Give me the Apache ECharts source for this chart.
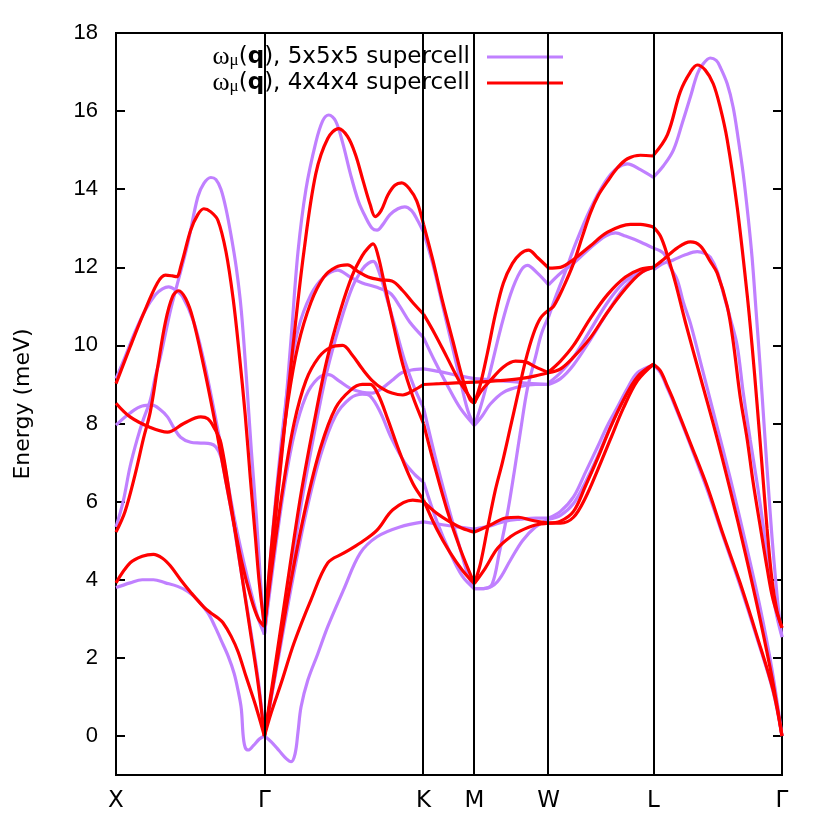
<!DOCTYPE html>
<html>
<head>
<meta charset="utf-8">
<script src="https://cdn.jsdelivr.net/npm/echarts@6/dist/echarts.min.js"></script>
<style>html,body{margin:0;padding:0;background:#fff}#c{width:830px;height:830px}</style>
</head>
<body>
<div id="c"></div>
<script>
// High-symmetry points and path coordinates
const kLabels = ['X', 'Γ', 'K', 'M', 'W', 'L', 'Γ'];
const kPos = [0, 1, 2.072, 2.414, 2.914, 3.621, 4.487];
const yTicks = [0, 2, 4, 6, 8, 10, 12, 14, 16, 18];
const seriesNames = ['5x5x5', '4x4x4'];

// Bands per path segment: each point is [fraction along segment, energy meV]
// ---- 5x5x5 supercell ----
const s5_XG = [
  [[0,5.35],[.048,6.0],[.095,6.9],[.143,7.6],[.184,8.1],[.231,8.6],[.265,9.2],[.299,9.7],[.333,10.3],[.367,10.9],[.415,11.6],[.483,12.6],[.551,13.8],[.592,14.15],[.639,14.3],[.673,14.25],[.707,14.0],[.741,13.5],[.776,12.8],[.810,12.0],[.844,10.9],[.878,9.2],[.912,7.3],[.946,5.6],[.973,4.0],[1,2.6]],
  [[0,9.15],[.061,9.7],[.129,10.35],[.197,10.9],[.265,11.3],[.313,11.45],[.354,11.5],[.401,11.42],[.449,11.25],[.524,10.6],[.592,9.6],[.660,8.35],[.728,7.0],[.796,5.6],[.864,4.4],[.912,3.65],[.959,3.0],[1,2.6]],
  [[0,7.96],[.095,8.27],[.177,8.45],[.245,8.47],[.299,8.35],[.347,8.17],[.388,7.9],[.435,7.65],[.503,7.52],[.571,7.5],[.639,7.48],[.673,7.4],[.707,7.15],[.741,6.5],[.789,5.5],[.844,4.2],[.912,2.6],[.959,1.4],[1,0]],
  [[0,3.8],[.095,3.92],[.177,4.0],[.252,4.0],[.333,3.92],[.415,3.83],[.483,3.7],[.551,3.48],[.619,3.15],[.667,2.8],[.707,2.46],[.755,2.05],[.796,1.6],[.823,1.15],[.844,0.7],[.857,0.0],[.871,-0.3],[.891,-0.36],[.925,-0.25],[.966,-0.08],[1,0]]
];
const s5_GK = [
  [[0,2.6],[.031,3.8],[.075,5.8],[.124,8.0],[.168,10.2],[.211,12.4],[.261,14.0],[.323,15.2],[.366,15.75],[.404,15.9],[.447,15.75],[.491,15.2],[.540,14.4],[.590,13.7],[.634,13.3],[.677,13.0],[.708,12.95],[.745,13.1],[.789,13.35],[.839,13.5],[.882,13.55],[.925,13.45],[.963,13.2],[1,12.9]],
  [[0,2.6],[.043,4.8],[.093,7.0],[.149,9.0],[.211,10.4],[.292,11.3],[.373,11.75],[.460,11.93],[.540,11.75],[.615,11.6],[.696,11.5],[.789,11.34],[.851,11.0],[.913,10.6],[1,10.2]],
  [[0,0],[.075,1.8],[.155,3.9],[.230,5.9],[.311,7.7],[.391,9.3],[.478,10.6],[.553,11.5],[.615,11.95],[.652,12.1],[.683,12.15],[.727,11.8],[.770,11.2],[.820,10.5],[.882,9.6],[.944,8.9],[1,8.4]],
  [[0,2.6],[.056,4.4],[.118,6.2],[.186,7.7],[.261,8.7],[.335,9.15],[.404,9.25],[.466,9.1],[.540,8.9],[.615,8.8],[.677,8.78],[.739,8.9],[.801,9.1],[.863,9.3],[.925,9.37],[1,9.4]],
  [[0,0],[.075,1.7],[.168,3.8],[.261,5.7],[.354,7.2],[.447,8.2],[.540,8.65],[.615,8.75],[.665,8.7],[.727,8.3],[.801,7.6],[.882,7.0],[.944,6.7],[1,6.5]],
  [[0,0],[.043,-0.15],[.093,-0.38],[.137,-0.58],[.168,-0.66],[.193,-0.45],[.211,0.1],[.230,0.74],[.273,1.43],[.335,2.1],[.398,2.8],[.497,3.74],[.602,4.68],[.708,5.1],[.851,5.35],[1,5.48]]
];
const s5_KM = [
  [[0,12.9],[.18,12.1],[.38,11.0],[.58,9.9],[.76,8.9],[.88,8.3],[1,7.95]],
  [[0,10.2],[.22,9.6],[.46,9.0],[.72,8.4],[1,7.95]],
  [[0,8.4],[.22,7.2],[.46,6.0],[.72,4.8],[.88,4.1],[1,3.77]],
  [[0,9.4],[.32,9.33],[.64,9.24],[1,9.15]],
  [[0,6.5],[.26,5.5],[.52,4.7],[.76,4.1],[1,3.77]],
  [[0,5.48],[.32,5.42],[.62,5.36],[1,5.3]]
];
const s5_MW = [
  [[0,7.95],[.081,8.4],[.216,9.35],[.351,10.4],[.486,11.3],[.622,11.9],[.716,12.05],[.851,11.85],[1,11.55]],
  [[0,7.95],[.108,8.2],[.216,8.5],[.392,8.8],[.622,8.95],[.824,9.0],[1,9.0]],
  [[0,9.15],[.351,9.1],[.622,9.05],[1,9.0]],
  [[0,3.77],[.149,3.78],[.243,3.9],[.338,4.7],[.446,5.7],[.541,6.8],[.622,7.8],[.716,8.9],[.824,9.7],[.905,10.3],[1,10.73]],
  [[0,3.77],[.149,3.78],[.311,3.95],[.486,4.5],[.649,5.0],[.824,5.35],[1,5.55]],
  [[0,5.3],[.216,5.38],[.419,5.5],[.622,5.55],[.824,5.58],[1,5.58]]
];
const s5_WL = [
  [[0,11.55],[.114,11.85],[.238,12.1],[.40,12.5],[.543,12.8],[.638,12.88],[.733,12.8],[.876,12.65],[1,12.49]],
  [[0,10.73],[.076,11.3],[.162,11.9],[.257,12.6],[.40,13.5],[.543,14.2],[.657,14.55],[.752,14.65],[.876,14.5],[1,14.3]],
  [[0,9.04],[.114,9.3],[.238,9.7],[.40,10.4],[.562,11.1],[.714,11.6],[.876,11.9],[1,12.0]],
  [[0,9.0],[.114,9.15],[.238,9.5],[.40,10.15],[.562,10.85],[.714,11.45],[.876,11.85],[1,12.0]],
  [[0,5.55],[.114,5.65],[.238,5.95],[.352,6.5],[.467,7.15],[.562,7.75],[.657,8.3],[.752,8.8],[.848,9.2],[1,9.5]],
  [[0,5.58],[.114,5.75],[.238,6.12],[.352,6.75],[.467,7.4],[.562,7.95],[.657,8.42],[.752,8.9],[.848,9.3],[1,9.5]]
];
const s5_LG = [
  [[0,14.31],[.078,14.6],[.155,15.0],[.225,15.7],[.287,16.36],[.341,16.95],[.380,17.18],[.442,17.36],[.488,17.3],[.519,17.13],[.574,16.7],[.620,16.1],[.659,15.3],[.698,14.4],[.736,13.3],[.767,12.26],[.798,10.9],[.829,9.5],[.860,8.0],[.891,6.5],[.922,5.1],[.953,3.9],[.977,3.1],[1,2.53]],
  [[0,11.93],[.078,12.1],[.155,12.19],[.248,12.32],[.341,12.4],[.403,12.35],[.442,12.26],[.496,11.9],[.543,11.34],[.597,10.7],[.651,10.0],[.698,8.8],[.752,7.6],[.806,6.48],[.853,5.4],[.891,4.4],[.930,3.6],[.961,3.05],[1,2.53]],
  [[0,12.49],[.078,12.36],[.132,12.0],[.186,11.67],[.233,11.1],[.287,10.57],[.364,9.6],[.481,8.1],[.597,6.6],[.713,5.0],[.829,3.3],[.922,1.7],[1,0]],
  [[0,9.5],[.054,9.3],[.109,8.9],[.155,8.55],[.287,7.45],[.419,6.3],[.543,5.1],[.674,3.85],[.806,2.5],[.930,1.15],[1,0]]
];

// ---- 4x4x4 supercell ----
const r4_XG = [
  [[0,9.02],[.095,9.96],[.184,10.8],[.279,11.6],[.333,11.8],[.381,11.78],[.408,11.76],[.442,12.1],[.503,12.95],[.551,13.35],[.592,13.5],[.639,13.42],[.687,13.2],[.741,12.4],[.789,11.2],[.830,9.8],[.871,8.2],[.905,6.6],[.939,5.1],[.966,3.9],[1,2.85]],
  [[0,5.22],[.061,5.75],[.129,6.7],[.184,7.6],[.231,8.3],[.279,9.4],[.333,10.6],[.381,11.25],[.422,11.4],[.469,11.2],[.517,10.7],[.592,9.45],[.660,8.17],[.707,7.2],[.776,5.8],[.844,4.5],[.912,3.5],[.959,3.0],[1,2.8]],
  [[0,8.52],[.095,8.17],[.231,7.9],[.347,7.78],[.456,8.0],[.571,8.17],[.619,8.12],[.660,7.9],[.707,7.5],[.776,5.9],[.844,4.2],[.912,2.5],[.959,1.3],[1,0]],
  [[0,3.92],[.095,4.43],[.177,4.6],[.252,4.65],[.313,4.55],[.367,4.35],[.435,4.0],[.503,3.68],[.592,3.3],[.639,3.15],[.687,3.02],[.721,2.9],[.776,2.55],[.823,2.15],[.878,1.5],[.939,0.8],[1,0]]
];
const r4_GK = [
  [[0,2.8],[.031,4.0],[.075,5.8],[.124,7.8],[.180,10.0],[.248,12.4],[.323,14.4],[.398,15.3],[.466,15.55],[.522,15.35],[.571,14.9],[.621,14.2],[.665,13.6],[.696,13.3],[.733,13.45],[.776,13.85],[.820,14.1],[.863,14.16],[.913,14.0],[.957,13.7],[1,13.1]],
  [[0,2.8],[.043,4.8],[.093,6.8],[.149,8.6],[.211,10.0],[.292,11.1],[.373,11.75],[.447,12.0],[.522,12.06],[.584,11.9],[.652,11.75],[.727,11.68],[.801,11.65],[.870,11.4],[.932,11.1],[1,10.8]],
  [[0,0],[.075,2.0],[.155,4.2],[.230,6.2],[.311,8.0],[.391,9.6],[.478,10.9],[.553,11.8],[.615,12.3],[.652,12.5],[.683,12.6],[.714,12.3],[.758,11.5],[.807,10.6],[.870,9.5],[.932,8.7],[1,8.0]],
  [[0,2.8],[.056,4.6],[.118,6.4],[.186,8.0],[.261,9.1],[.342,9.7],[.416,9.95],[.491,10.0],[.553,9.75],[.615,9.4],[.677,9.1],[.739,8.9],[.801,8.78],[.870,8.73],[.938,8.85],[1,9.0]],
  [[0,0],[.075,1.8],[.168,4.0],[.261,5.9],[.354,7.4],[.447,8.4],[.540,8.85],[.615,9.0],[.665,9.0],[.714,8.75],[.776,8.1],[.851,7.25],[.932,6.47],[1,6.04]],
  [[0,0],[.043,0.6],[.106,1.36],[.186,2.38],[.292,3.48],[.398,4.43],[.497,4.68],[.602,4.94],[.708,5.27],[.807,5.79],[.932,6.04],[1,6.0]]
];
const r4_KM = [
  [[0,13.1],[.18,12.2],[.38,11.1],[.58,10.1],[.78,9.1],[.92,8.6],[1,8.52]],
  [[0,10.8],[.22,10.3],[.46,9.7],[.72,9.05],[1,8.52]],
  [[0,8.0],[.22,6.9],[.46,5.8],[.72,4.8],[1,3.9]],
  [[0,9.0],[.32,9.02],[.64,9.04],[1,9.06]],
  [[0,6.04],[.26,5.3],[.52,4.7],[.76,4.25],[1,3.9]],
  [[0,6.0],[.26,5.7],[.52,5.48],[.76,5.32],[1,5.22]]
];
const r4_MW = [
  [[0,8.52],[.081,9.0],[.176,9.8],[.284,10.8],[.392,11.6],[.514,12.1],[.622,12.35],[.730,12.44],[.851,12.25],[1,11.98]],
  [[0,8.52],[.081,8.8],[.216,9.1],[.392,9.45],[.554,9.6],[.689,9.58],[.824,9.45],[1,9.3]],
  [[0,9.06],[.351,9.1],[.622,9.15],[.824,9.22],[1,9.3]],
  [[0,3.9],[.081,4.4],[.176,5.3],[.284,6.3],[.378,7.0],[.486,7.9],[.581,8.7],[.689,9.6],[.797,10.3],[.892,10.7],[1,10.9]],
  [[0,3.9],[.149,4.3],[.311,4.8],[.486,5.1],[.622,5.25],[.824,5.4],[1,5.45]],
  [[0,5.22],[.216,5.4],[.419,5.58],[.595,5.6],[.757,5.53],[1,5.45]]
];
const r4_WL = [
  [[0,11.98],[.114,12.0],[.238,12.2],[.40,12.55],[.562,12.9],[.781,13.1],[.876,13.1],[1,13.03]],
  [[0,10.9],[.048,11.0],[.143,11.5],[.238,12.1],[.324,12.8],[.40,13.4],[.476,13.85],[.562,14.2],[.657,14.55],[.752,14.78],[.876,14.87],[1,14.85]],
  [[0,9.32],[.114,9.6],[.238,10.0],[.40,10.7],[.562,11.3],[.733,11.75],[.876,11.95],[1,12.0]],
  [[0,9.3],[.114,9.4],[.238,9.7],[.40,10.2],[.562,10.85],[.733,11.45],[.876,11.85],[1,12.0]],
  [[0,5.45],[.114,5.5],[.238,5.75],[.352,6.4],[.467,7.1],[.590,7.9],[.714,8.6],[.848,9.2],[1,9.52]],
  [[0,5.45],[.114,5.45],[.238,5.6],[.352,6.1],[.467,6.8],[.590,7.6],[.714,8.4],[.848,9.1],[1,9.52]]
];
const r4_LG = [
  [[0,14.87],[.109,15.4],[.209,16.5],[.287,17.0],[.341,17.18],[.403,17.05],[.465,16.7],[.519,16.1],[.574,15.26],[.651,13.55],[.729,11.3],[.767,10.0],[.806,8.5],[.845,6.9],[.884,5.3],[.922,4.0],[.961,3.2],[1,2.77]],
  [[0,13.03],[.054,12.8],[.109,12.3],[.171,11.6],[.248,10.6],[.364,9.2],[.481,7.8],[.597,6.3],[.713,4.7],[.829,3.0],[.922,1.5],[1,0]],
  [[0,12.0],[.078,12.2],[.186,12.5],[.287,12.65],[.364,12.55],[.442,12.15],[.496,11.85],[.574,11.0],[.620,10.1],[.674,8.7],[.729,7.6],[.775,6.5],[.829,5.4],[.884,4.3],[.930,3.5],[1,2.77]],
  [[0,9.52],[.054,9.35],[.109,8.95],[.155,8.6],[.287,7.5],[.419,6.38],[.543,5.15],[.674,3.92],[.806,2.55],[.930,1.18],[1,0]]
];

const segs5 = [s5_XG, s5_GK, s5_KM, s5_MW, s5_WL, s5_LG];
const segs4 = [r4_XG, r4_GK, r4_KM, r4_MW, r4_WL, r4_LG];
const colors = ['#c080ff', '#ff0000'];

const series = [];
function addBands(segs, name, color) {
  segs.forEach((bands, i) => {
    const a = kPos[i], b = kPos[i + 1];
    bands.forEach(band => {
      series.push({
        type: 'line', name: name,
        data: band.map(p => [a + p[0] * (b - a), p[1]]),
        smooth: 0.35, showSymbol: false, symbol: 'none',
        lineStyle: { color: color, width: 3.2 },
        itemStyle: { color: color },
        emphasis: { disabled: true }, silent: true, animation: false, z: 3
      });
    });
  });
}
// vertical lines at interior high-symmetry points
series.push({
  type: 'line', name: 'kpts', data: [], z: 2, silent: true, animation: false,
  markLine: {
    silent: true, symbol: ['none', 'none'], label: { show: false }, animation: false,
    lineStyle: { color: '#000', width: 2, type: 'solid' },
    data: kPos.slice(1, kPos.length - 1).map(v => ({ xAxis: v }))
  }
});
addBands(segs5, seriesNames[0], colors[0]);
addBands(segs4, seriesNames[1], colors[1]);

const font = 'DejaVu Sans';
const tickFont = 'Liberation Sans';
const chart = echarts.init(document.getElementById('c'), null, { renderer: 'canvas' });
chart.setOption({
  backgroundColor: '#fff',
  animation: false,
  grid: { left: 116, right: 48, top: 33, bottom: 55, show: true, borderColor: '#000', borderWidth: 2, containLabel: false },
  legend: {
    data: seriesNames, orient: 'vertical', align: 'right', right: 262, top: 39,
    itemWidth: 76, itemHeight: 3, itemGap: 0, icon: 'rect', selectedMode: false,
    formatter: n => '{w|ω}{m|μ}{n|(}{b|q}{n|), ' + n + ' supercell}',
    textStyle: {
      color: '#000', padding: [0, 12, 0, 0],
      rich: {
        w: { fontFamily: 'Liberation Serif', fontSize: 26, lineHeight: 25, color: '#000' },
        m: { fontFamily: 'Liberation Serif', fontSize: 17, lineHeight: 13, verticalAlign: 'bottom', color: '#000' },
        n: { fontFamily: font, fontSize: 23, lineHeight: 25, color: '#000' },
        b: { fontFamily: font, fontSize: 23, fontWeight: 'bold', lineHeight: 25, color: '#000' }
      }
    }
  },
  xAxis: {
    type: 'value', min: kPos[0], max: kPos[kPos.length - 1],
    axisLine: { show: false }, axisTick: { show: false }, splitLine: { show: false },
    axisLabel: {
      customValues: kPos, margin: 15, color: '#000', fontFamily: font, fontSize: 23,
      formatter: v => { const i = kPos.indexOf(v); return i >= 0 ? kLabels[i] : ''; }
    }
  },
  yAxis: [
    {
      type: 'value', min: -1, max: 18, name: 'Energy (meV)', nameLocation: 'middle', nameGap: 82,
      nameTextStyle: { color: '#000', fontFamily: font, fontSize: 22 },
      axisLine: { show: false }, splitLine: { show: false },
      axisTick: { show: true, inside: true, length: 9, customValues: yTicks, lineStyle: { color: '#000', width: 2 } },
      axisLabel: { customValues: yTicks, margin: 18, color: '#000', fontFamily: tickFont, fontSize: 22 }
    },
    {
      type: 'value', min: -1, max: 18, position: 'right',
      axisLine: { show: false }, splitLine: { show: false },
      axisTick: { show: true, inside: true, length: 9, customValues: yTicks, lineStyle: { color: '#000', width: 2 } },
      axisLabel: { show: false }
    }
  ],
  series: series
});
</script>
</body>
</html>
